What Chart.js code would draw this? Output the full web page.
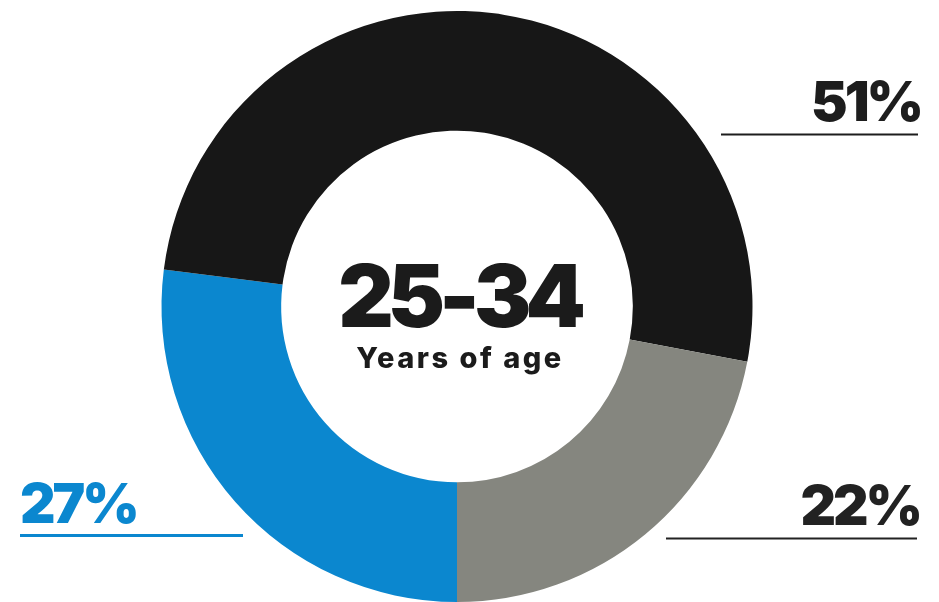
<!DOCTYPE html>
<html>
<head>
<meta charset="utf-8">
<script src="https://cdn.jsdelivr.net/npm/chart.js@4/dist/chart.umd.min.js"></script>
<style>
  html, body { margin: 0; padding: 0; background: #fff; }
  #wrap { width: 939px; height: 602px; position: relative; }
</style>
</head>
<body>
<div id="wrap"><canvas id="ageChart"></canvas></div>
<script>
const labels = ['Blue', 'Black', 'Gray'];
const shares = [27, 51, 22];
const colors = ['#0b87cf', '#171717', '#85867f'];
const centerTitle = '25-34';
const centerSub = 'Years of age';

// where each percentage sits: side of the ring + vertical offset from centre
const placement = [
  { side: 'left',  dy: 216, lineDy: 229, from: 20,  to: 243, color: '#0b87cf' },
  { side: 'right', dy: -186, lineDy: -172, from: 721, to: 918, color: '#1d1d1d' },
  { side: 'right', dy: 218, lineDy: 232, from: 666, to: 917, color: '#222' }
];

const ringText = {
  id: 'ringText',
  afterDraw(chart) {
    const { ctx } = chart;
    const arc = chart.getDatasetMeta(0).data[0];
    const cx = arc.x, cy = arc.y;
    ctx.save();
    ctx.fillStyle = '#1b1b1b';
    ctx.textAlign = 'center';
    ctx.textBaseline = 'alphabetic';
    ctx.letterSpacing = '-6px';
    ctx.font = '900 86px Inter, Lato, sans-serif';
    ctx.fillText(centerTitle, cx + 2, cy + 20);
    ctx.letterSpacing = '2.5px';
    ctx.font = '800 29px Inter, Lato, sans-serif';
    ctx.fillText(centerSub, cx + 3, cy + 61);

    shares.forEach((v, i) => {
      const p = placement[i];
      ctx.fillStyle = p.color;
      ctx.strokeStyle = p.color;
      ctx.letterSpacing = '-3px';
      ctx.font = '900 55px Inter, Lato, sans-serif';
      if (p.side === 'right') {
        ctx.textAlign = 'right';
        ctx.fillText(v + '%', p.to + 3, cy + p.dy);
      } else {
        ctx.textAlign = 'left';
        ctx.fillText(v + '%', p.from, cy + p.dy);
      }
      ctx.lineWidth = p.side === 'left' ? 3 : 2;
      ctx.beginPath();
      ctx.moveTo(p.from, cy + p.lineDy);
      ctx.lineTo(p.to, cy + p.lineDy);
      ctx.stroke();
    });
    ctx.restore();
  }
};

new Chart(document.getElementById('ageChart'), {
  type: 'doughnut',
  plugins: [ringText],
  data: {
    labels: labels,
    datasets: [{
      data: shares,
      backgroundColor: colors,
      borderWidth: 0,
      hoverOffset: 0
    }]
  },
  options: {
    responsive: true,
    maintainAspectRatio: false,
    animation: false,
    rotation: 180,
    cutout: '59.5%',
    layout: { padding: { top: 11, bottom: 0, left: 161, right: 186 } },
    plugins: {
      legend: { display: false },
      tooltip: { enabled: false }
    }
  }
});
</script>
</body>
</html>
